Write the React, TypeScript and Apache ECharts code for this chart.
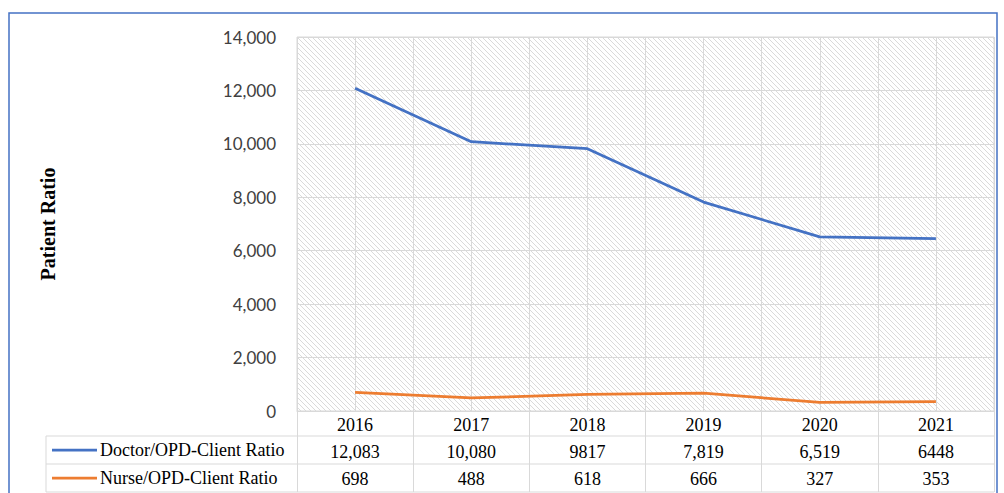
import React, { useEffect, useRef } from "react";
import * as echarts from "echarts";

const years = ["2016", "2017", "2018", "2019", "2020", "2021"];
const doctorValues = [12083, 10080, 9817, 7819, 6519, 6448];
const nurseValues = [698, 488, 618, 666, 327, 353];
const doctorLabels = ["12,083", "10,080", "9817", "7,819", "6,519", "6448"];
const nurseLabels = ["698", "488", "618", "666", "327", "353"];
const seriesNames = ["Doctor/OPD-Client Ratio", "Nurse/OPD-Client Ratio"];
const seriesColors = ["#4472C4", "#ED7D31"];
const yTicks = { min: 0, max: 14000, interval: 2000 };

const W = 1004;
const H = 493;
const GRID_LEFT = 297;
const GRID_RIGHT = 994;
const GRID_TOP = 37;
const GRID_BOTTOM = 411;
const ROW1 = 436;
const ROW2 = 464;
const ROW3 = 492;
const TABLE_LEFT = 46;
const LINE_GREY = "#d9d9d9";
const SERIF = "'Liberation Serif', 'Times New Roman', serif";

function makeHatch() {
  const c = document.createElement("canvas");
  const s = 5;
  c.width = s;
  c.height = s;
  const ctx = c.getContext("2d")!;
  ctx.fillStyle = "#ffffff";
  ctx.fillRect(0, 0, s, s);
  ctx.strokeStyle = "#dadada";
  ctx.lineWidth = 1;
  ctx.beginPath();
  ctx.moveTo(-1, -1);
  ctx.lineTo(s + 1, s + 1);
  ctx.moveTo(-1, s - 1);
  ctx.lineTo(1, s + 1);
  ctx.moveTo(s - 1, -1);
  ctx.lineTo(s + 1, 1);
  ctx.stroke();
  return { image: c, repeat: "repeat", imageWidth: s, imageHeight: s } as any;
}

export default function App() {
  const ref = useRef<HTMLDivElement>(null);

  useEffect(() => {
    document.body.style.margin = "0";
    if (!ref.current) return;
    const chart = echarts.init(ref.current, null, { renderer: "svg" });

    const graphics: any[] = [];
    graphics.push({
      type: "rect",
      shape: { x: 9, y: 13, width: 988, height: 520 },
      style: { fill: "none", stroke: "#4472C4", lineWidth: 1.5 },
      silent: true,
    });
    [ROW1, ROW2, ROW3].forEach((y) =>
      graphics.push({
        type: "line",
        shape: { x1: TABLE_LEFT, y1: y, x2: GRID_RIGHT, y2: y },
        style: { stroke: LINE_GREY, lineWidth: 1 },
        silent: true,
      })
    );
    graphics.push({
      type: "line",
      shape: { x1: TABLE_LEFT, y1: ROW1, x2: TABLE_LEFT, y2: ROW3 },
      style: { stroke: LINE_GREY, lineWidth: 1 },
      silent: true,
    });
    const rowsY = [(ROW1 + ROW2) / 2, (ROW2 + ROW3) / 2];
    seriesNames.forEach((name, i) => {
      graphics.push({
        type: "line",
        shape: { x1: 52, y1: rowsY[i], x2: 97, y2: rowsY[i] },
        style: { stroke: seriesColors[i], lineWidth: 2.75 },
        silent: true,
      });
      graphics.push({
        type: "text",
        x: 100,
        y: rowsY[i],
        style: {
          text: name,
          font: `18px ${SERIF}`,
          fill: "#000000",
          verticalAlign: "middle",
          align: "left",
        },
        silent: true,
      });
    });

    chart.setOption({
      animation: false,
      backgroundColor: "#ffffff",
      grid: {
        left: GRID_LEFT,
        top: GRID_TOP,
        width: GRID_RIGHT - GRID_LEFT,
        height: GRID_BOTTOM - GRID_TOP,
        show: true,
        backgroundColor: makeHatch(),
        borderColor: LINE_GREY,
        borderWidth: 1,
      },
      xAxis: [
        {
          type: "category",
          data: years,
          boundaryGap: true,
          axisLine: { show: true, lineStyle: { color: LINE_GREY, width: 1 } },
          axisTick: {
            show: true,
            inside: false,
            length: ROW3 - GRID_BOTTOM,
            lineStyle: { color: LINE_GREY, width: 1 },
          },
          splitLine: { show: false },
          axisLabel: {
            margin: 0,
            fontFamily: SERIF,
            fontSize: 18,
            lineHeight: 27,
            color: "#000000",
            formatter: (v: string, i: number) =>
              `${v}\n${doctorLabels[i]}\n${nurseLabels[i]}`,
          },
        },
        {
          type: "value",
          min: 0,
          max: years.length * 2,
          interval: 1,
          position: "bottom",
          axisLine: { show: false },
          axisTick: { show: false },
          axisLabel: { show: false },
          splitLine: { show: true, lineStyle: { color: LINE_GREY, width: 1 } },
        },
      ],
      yAxis: {
        type: "value",
        min: yTicks.min,
        max: yTicks.max,
        interval: yTicks.interval,
        name: "Patient Ratio",
        nameLocation: "middle",
        nameRotate: 90,
        nameGap: GRID_LEFT - 58,
        nameTextStyle: {
          fontFamily: SERIF,
          fontWeight: "bold",
          fontSize: 20,
          color: "#000000",
        },
        axisLine: { show: false },
        axisTick: { show: false },
        splitLine: { show: true, lineStyle: { color: LINE_GREY, width: 1 } },
        axisLabel: {
          margin: 21,
          fontFamily: "Lato, 'Liberation Sans', sans-serif",
          fontSize: 17,
          color: "#404040",
          formatter: (v: number) => v.toLocaleString("en-US"),
        },
      },
      series: [
        {
          name: seriesNames[0],
          type: "line",
          xAxisIndex: 0,
          data: doctorValues,
          showSymbol: false,
          symbol: "none",
          lineStyle: { color: seriesColors[0], width: 2.75 },
          itemStyle: { color: seriesColors[0] },
        },
        {
          name: seriesNames[1],
          type: "line",
          xAxisIndex: 0,
          data: nurseValues,
          showSymbol: false,
          symbol: "none",
          lineStyle: { color: seriesColors[1], width: 2.75 },
          itemStyle: { color: seriesColors[1] },
        },
      ],
      graphic: graphics,
    });

    return () => chart.dispose();
  }, []);

  return <div ref={ref} style={{ width: W, height: H }} />;
}
